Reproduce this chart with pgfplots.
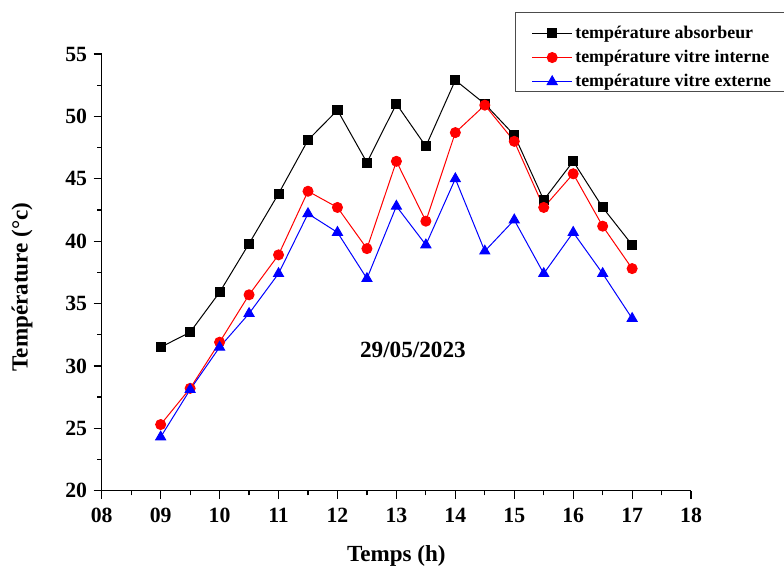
\documentclass[border=0pt]{standalone}
\usepackage{fontspec}
\setmainfont{Liberation Serif}
\usepackage{pgfplots}
\pgfplotsset{compat=1.18}
\begin{document}
\begin{tikzpicture}
\begin{axis}[
  at={(0pt,0pt)}, anchor=south west,
  scale only axis, width=442pt, height=327.5pt,
  xmin=8, xmax=18, ymin=20, ymax=55,
  clip=false,
  axis lines=left, axis line style={-, line width=1pt, black},
  xtick={8,...,18}, xticklabels={08,09,10,11,12,13,14,15,16,17,18},
  ytick={20,25,...,55},
  minor x tick num=1, minor y tick num=1,
  tick align=outside, major tick length=6pt, minor tick length=3.5pt,
  every tick/.style={black, line width=0.9pt},
  /pgf/number format/assume math mode=true,
  tick label style={font=\fontsize{16.3}{18}\selectfont\bfseries},
  xticklabel style={yshift=-3.5pt},
  yticklabel style={xshift=-1.5pt},
  xlabel={Temps (h)}, ylabel={Température (°c)},
  label style={font=\fontsize{17.3}{20}\selectfont\bfseries},
  xlabel style={at={(rel axis cs:0.5,-0.1495)}, anchor=center},
  ylabel style={at={(rel axis cs:-0.1353,0.4665)}, anchor=center},
  legend style={at={(rel axis cs:0.7014,1.075)}, anchor=north west,
    draw=none, fill=none, font=\fontsize{13.4}{16}\selectfont\bfseries,
    cells={anchor=west}, inner xsep=12.25pt, inner ysep=1.5pt, row sep=3.3pt},
  legend image code/.code={\draw[mark repeat=2,mark phase=2] plot coordinates {(0pt,0pt)(15pt,0pt)(30pt,0pt)};},
]
\addplot[black, line width=0.75pt, mark=square*, mark size=3.4pt, mark options={solid}] coordinates {
(9,31.5)(9.5,32.7)(10,35.9)(10.5,39.8)(11,43.8)(11.5,48.1)(12,50.5)(12.5,46.3)(13,51.0)(13.5,47.6)(14,52.9)(14.5,51.0)(15,48.5)(15.5,43.3)(16,46.4)(16.5,42.7)(17,39.7)};
\addlegendentry{température absorbeur}
\addplot[red, line width=0.75pt, mark=*, mark size=3.75pt, mark options={solid}] coordinates {
(9,25.3)(9.5,28.2)(10,31.9)(10.5,35.7)(11,38.9)(11.5,44.0)(12,42.7)(12.5,39.4)(13,46.4)(13.5,41.6)(14,48.7)(14.5,50.9)(15,48.0)(15.5,42.7)(16,45.4)(16.5,41.2)(17,37.8)};
\addlegendentry{température vitre interne}
\addplot[blue, line width=0.75pt, mark=triangle*, mark size=4.3pt, mark options={solid}] coordinates {
(9,24.3)(9.5,28.1)(10,31.5)(10.5,34.2)(11,37.4)(11.5,42.2)(12,40.7)(12.5,37.0)(13,42.8)(13.5,39.7)(14,45.0)(14.5,39.2)(15,41.7)(15.5,37.4)(16,40.7)(16.5,37.4)(17,33.8)};
\addlegendentry{température vitre externe}
\node[font=\fontsize{17.4}{20}\selectfont\bfseries] at (axis cs:13.28,31.27) {29/05/2023};
\draw[black!70, line width=0.8pt] (rel axis cs:0.7014,1.0947) rectangle (rel axis cs:1.25,0.9137);
\end{axis}
\pgfresetboundingbox
\path (-76.3pt,-57.2pt) rectangle (511.7pt,368pt);
\end{tikzpicture}
\end{document}
